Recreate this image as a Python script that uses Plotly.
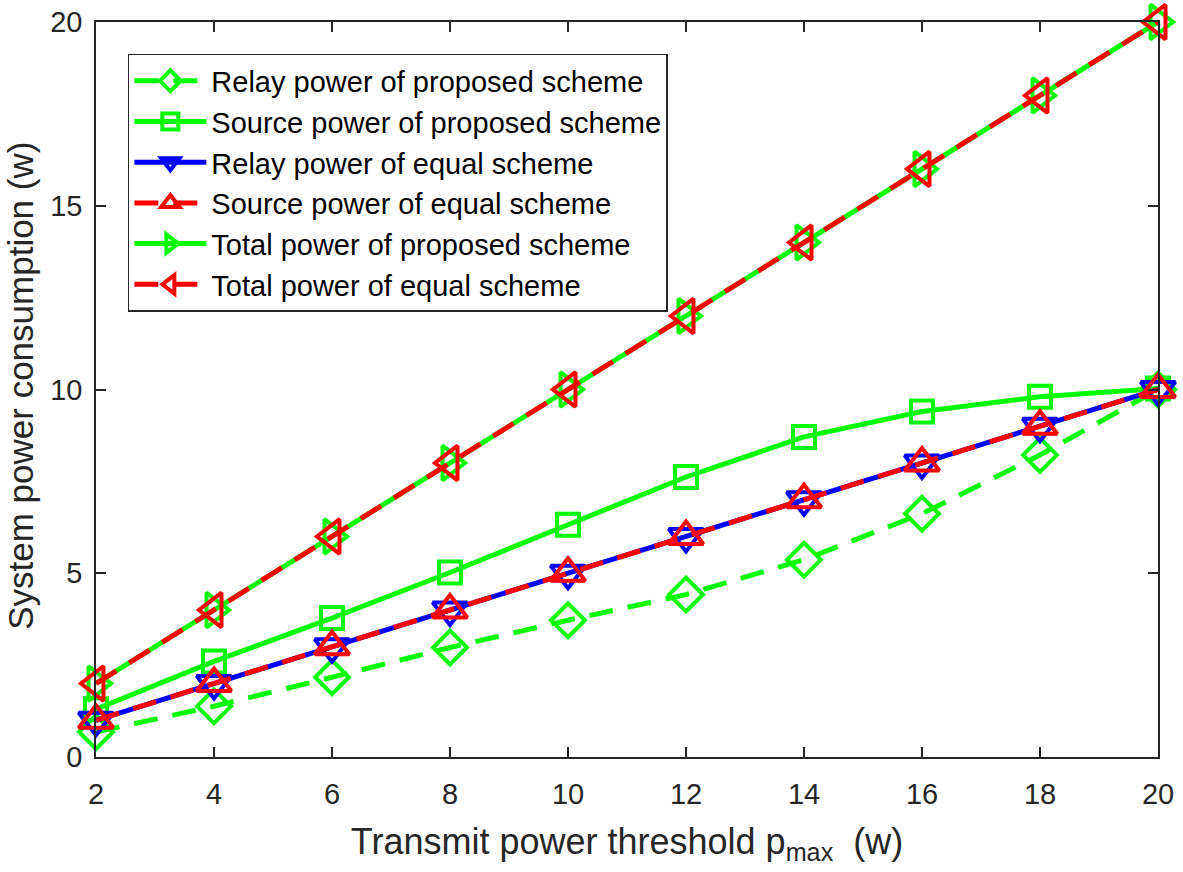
import plotly.graph_objects as go

p_max = [2, 4, 6, 8, 10, 12, 14, 16, 18, 20]
relay_proposed = [0.68, 1.38, 2.17, 2.98, 3.72, 4.42, 5.37, 6.62, 8.22, 10.0]
source_proposed = [1.3, 2.6, 3.78, 5.02, 6.32, 7.62, 8.71, 9.4, 9.8, 10.03]
relay_equal = [1, 2, 3, 4, 5, 6, 7, 8, 9, 10]
source_equal = [1, 2, 3, 4, 5, 6, 7, 8, 9, 10]
total_proposed = [2, 4, 6, 8, 10, 12, 14, 16, 18, 20]
total_equal = [2, 4, 6, 8, 10, 12, 14, 16, 18, 20]

GREEN = "#00ff00"
BLUE = "#0000ff"
RED = "#ff0000"
DASH = "24px,15px"

series = [
    ("Relay power of proposed scheme", relay_proposed, GREEN, DASH, "diamond-open", 26),
    ("Source power of proposed scheme", source_proposed, GREEN, "solid", "square-open", 22),
    ("Relay power of equal scheme", relay_equal, BLUE, "solid", "triangle-down-open", 30),
    ("Source power of equal scheme", source_equal, RED, DASH, "triangle-up-open", 30),
    ("Total power of proposed scheme", total_proposed, GREEN, "solid", "triangle-right-open", 30),
    ("Total power of equal scheme", total_equal, RED, DASH, "triangle-left-open", 30),
]

fig = go.Figure()
for i, (name, ys, col, dash, sym, sz) in enumerate(series):
    fig.add_trace(go.Scatter(
        x=p_max, y=ys, name=name, mode="lines+markers",
        legendgroup=f"g{i}",
        line=dict(color=col, width=5, dash=dash),
        marker=dict(symbol=sym, size=sz, color=col, line=dict(color=col, width=4)),
        cliponaxis=False,
    ))

FONT = "Liberation Sans, Arial, sans-serif"
TXT = "#262626"
fig.update_layout(
    width=1183, height=872,
    margin=dict(l=96, r=25, t=22, b=115),
    paper_bgcolor="white", plot_bgcolor="white",
    font=dict(family=FONT, color=TXT, size=24),
    showlegend=True,
    legend=dict(
        x=0.030, y=0.9565, xanchor="left", yanchor="top",
        bordercolor="#262626", borderwidth=1.5, bgcolor="white",
        font=dict(family=FONT, size=29, color="black"),
        tracegroupgap=0, itemsizing="trace", itemwidth=72,
    ),
    xaxis=dict(
        range=[2, 20], tickvals=p_max, ticks="inside", ticklen=10, tickwidth=1.5,
        tickcolor=TXT, showline=True, linecolor=TXT, linewidth=1.5, mirror="ticks",
        showgrid=False, zeroline=False, tickfont=dict(size=29, color=TXT),
        ticklabelstandoff=10, automargin=False,
        title=dict(text="Transmit power threshold p<sub>max</sub>  (w)",
                   font=dict(size=36, color=TXT), standoff=20),
    ),
    yaxis=dict(
        range=[0, 20], tickvals=[0, 5, 10, 15, 20], ticks="inside", ticklen=10, tickwidth=1.5,
        tickcolor=TXT, showline=True, linecolor=TXT, linewidth=1.5, mirror="ticks",
        showgrid=False, zeroline=False, tickfont=dict(size=29, color=TXT),
        ticklabelstandoff=6, automargin=False,
    ),
    annotations=[dict(
        text="System power consumption (w)", textangle=-90,
        xref="paper", yref="paper", x=0, y=0.505, xanchor="center", yanchor="middle",
        xshift=-75, showarrow=False, font=dict(size=35, color=TXT, family=FONT),
    )],
)

fig.write_html("out.html", config={"displayModeBar": False},
               post_script="document.body.style.margin='0px';")
